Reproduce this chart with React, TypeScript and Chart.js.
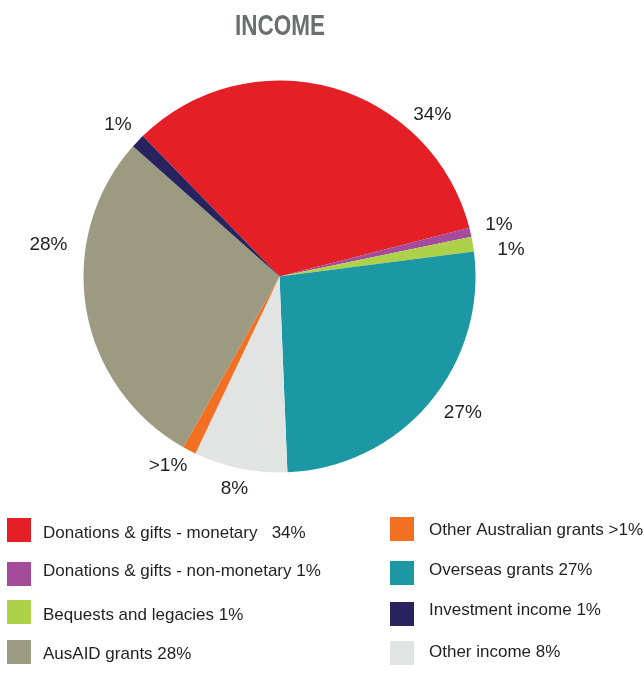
import React, { useEffect, useRef } from "react";
import { Chart, registerables } from "chart.js";

Chart.register(...registerables);

// Slices in clockwise drawing order (starting with the red slice)
const sliceNames = [
  "Donations & gifts - monetary",
  "Donations & gifts - non-monetary",
  "Bequests and legacies",
  "Overseas grants",
  "Other income",
  "Other Australian grants",
  "AusAID grants",
  "Investment income",
];
const sliceValues = [33.3, 0.75, 1.2, 26.4, 7.7, 1.1, 28.4, 1.15];
const sliceLabels = ["34%", "1%", "1%", "27%", "8%", ">1%", "28%", "1%"];
const sliceColors = [
  "#e41f26",
  "#a54b9b",
  "#add148",
  "#1b98a4",
  "#e2e3e3",
  "#f36f21",
  "#9c9a80",
  "#28235f",
];

// Legend texts (two columns), referencing the slice index for colour
const legendLeftText = [
  "Donations & gifts - monetary   34%",
  "Donations & gifts - non-monetary 1%",
  "Bequests and legacies 1%",
  "AusAID grants 28%",
];
const legendLeftSlice = [0, 1, 2, 6];
const legendRightText = [
  "Other Australian grants >1%",
  "Overseas grants 27%",
  "Investment income 1%",
  "Other income 8%",
];
const legendRightSlice = [5, 3, 7, 4];

const titleText = "INCOME";

// label placement style: fraction along the arc and radial gap beyond the edge
const labelFrac = [0.728, 0.3, 1.07, 0.46, 0.518, 1.35, 0.673, 0.47];
const labelGap = [27.9, 29.7, 37.2, 31.7, 19.4, 22, 37.4, 26.8];

const textPlugin = {
  id: "textPlugin",
  afterDraw(chart: any) {
    const ctx = chart.ctx as CanvasRenderingContext2D;
    ctx.save();
    // Title (condensed bold)
    ctx.save();
    ctx.fillStyle = "#6d6e71";
    ctx.font = "bold 30px 'Liberation Sans', Arial, sans-serif";
    ctx.textAlign = "center";
    ctx.textBaseline = "alphabetic";
    ctx.translate(280, 35);
    ctx.scale(0.75, 1);
    ctx.fillText(titleText, 0, 0);
    ctx.restore();

    // Percentage labels
    const meta = chart.getDatasetMeta(0);
    ctx.fillStyle = "#231f20";
    ctx.font = "19px 'Liberation Sans', Arial, sans-serif";
    meta.data.forEach((arc: any, i: number) => {
      const p = arc.getProps(["x", "y", "startAngle", "endAngle", "outerRadius"], true);
      const a = p.startAngle + (p.endAngle - p.startAngle) * labelFrac[i];
      const r = p.outerRadius + labelGap[i];
      const x = p.x + Math.cos(a) * r;
      const y = p.y + Math.sin(a) * r;
      ctx.textAlign = "center";
      ctx.fillText(sliceLabels[i], x, y + 0.358 * 19);
    });

    // Legend
    ctx.font = "17px 'Liberation Sans', Arial, sans-serif";
    ctx.textAlign = "left";
    const leftSq = [518, 562, 600, 640];
    const leftBase = [538.3, 576, 620, 659];
    const rightSq = [517, 561, 602, 641];
    const rightBase = [535, 575, 615, 656.7];
    legendLeftText.forEach((t, i) => {
      ctx.fillStyle = sliceColors[legendLeftSlice[i]];
      ctx.fillRect(7, leftSq[i], 24, 24);
      ctx.fillStyle = "#231f20";
      ctx.fillText(t, 43, leftBase[i]);
    });
    legendRightText.forEach((t, i) => {
      ctx.fillStyle = sliceColors[legendRightSlice[i]];
      ctx.fillRect(390, rightSq[i], 24, 24);
      ctx.fillStyle = "#231f20";
      ctx.fillText(t, 429, rightBase[i]);
    });
    ctx.restore();
  },
};

export default function App() {
  const ref = useRef<HTMLCanvasElement | null>(null);
  useEffect(() => {
    if (!ref.current) return;
    const chart = new Chart(ref.current, {
      type: "pie",
      data: {
        labels: sliceNames,
        datasets: [
          {
            data: sliceValues,
            backgroundColor: sliceColors,
            borderWidth: 0,
          },
        ],
      },
      options: {
        responsive: false,
        animation: false,
        devicePixelRatio: 1,
        rotation: -44.25,
        layout: { padding: { left: 83.5, right: 168.5, top: 80.5, bottom: 204.5 } },
        plugins: {
          legend: { display: false },
          tooltip: { enabled: false },
          title: { display: false },
        },
      },
      plugins: [textPlugin],
    });
    return () => chart.destroy();
  }, []);
  return (
    <div style={{ position: "absolute", left: 0, top: 0, width: 644, height: 677, background: "#fff" }}>
      <canvas ref={ref} width={644} height={677} style={{ width: 644, height: 677, display: "block" }} />
    </div>
  );
}
